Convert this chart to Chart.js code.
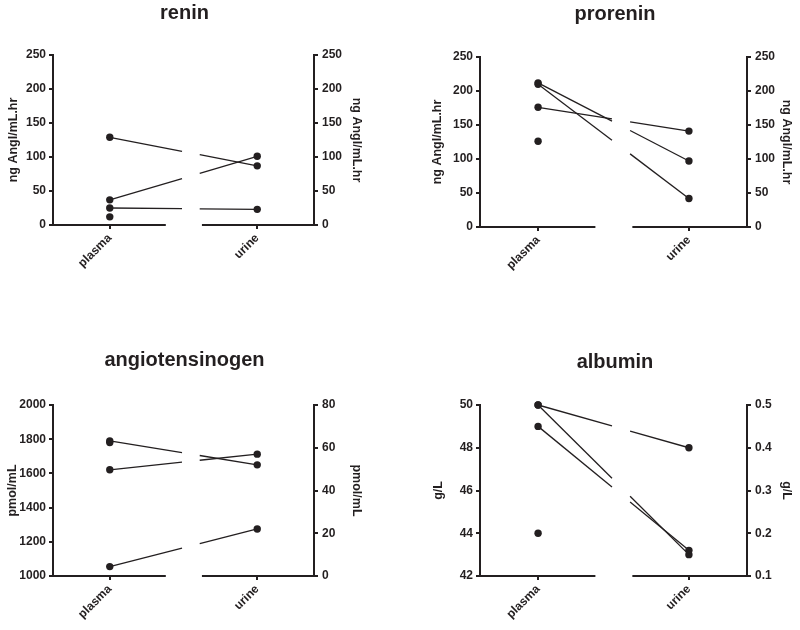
<!DOCTYPE html>
<html>
<head>
<meta charset="utf-8">
<script src="https://cdn.jsdelivr.net/npm/chart.js@4.4.1/dist/chart.umd.min.js"></script>
<style>
html,body{margin:0;padding:0;background:#fff;}
#wrap{position:relative;width:800px;height:630px;}
canvas{position:absolute;}
</style>
</head>
<body>
<div id="wrap">
<canvas id="c1" width="400" height="315" style="left:0;top:0"></canvas>
<canvas id="c2" width="400" height="315" style="left:400px;top:0"></canvas>
<canvas id="c3" width="400" height="315" style="left:0;top:315px"></canvas>
<canvas id="c4" width="400" height="315" style="left:400px;top:315px"></canvas>
</div>
<script>
// categories
const categories = ['plasma', 'urine'];

// renin (ng AngI/mL.hr)
const reninPlasma = [129, 37, 25, 12];
const reninUrine  = [87, 101, 23, null];
const reninLeftTicks  = [0, 250, 50];
const reninRightTicks = [0, 250, 50];

// prorenin (ng AngI/mL.hr)
const proreninPlasma = [212, 210, 176, 126];
const proreninUrine  = [97, 42, 141, null];
const proreninLeftTicks  = [0, 250, 50];
const proreninRightTicks = [0, 250, 50];

// angiotensinogen (pmol/mL)
const angioPlasma = [1790, 1621, 1055, 1780];
const angioUrine  = [52, 57, 22, null];
const angioLeftTicks  = [1000, 2000, 200];
const angioRightTicks = [0, 80, 20];

// albumin (g/L)
const albuminPlasma = [50, 50, 49, 44];
const albuminUrine  = [0.40, 0.15, 0.16, null];
const albuminLeftTicks  = [42, 50, 2];
const albuminRightTicks = [0.1, 0.5, 0.1];

const INK = '#231f20';
const FONT = '"Liberation Sans", Arial, sans-serif';

function pairLines(plasma, urine) {
  return {
    id: 'pairLines',
    beforeDatasetsDraw(chart) {
      const ctx = chart.ctx;
      const x = chart.scales.x, yl = chart.scales.y, yr = chart.scales.y1;
      const area = chart.chartArea;
      ctx.save();
      ctx.strokeStyle = INK;
      ctx.lineWidth = 1.3;
      plasma.forEach((v, i) => {
        const u = urine[i];
        if (u === null || u === undefined) return;
        const x0 = x.getPixelForValue(0), y0 = yl.getPixelForValue(v);
        const x1 = x.getPixelForValue(1), y1 = yr.getPixelForValue(u);
        const seg = (a, b) => {
          ctx.beginPath();
          ctx.moveTo(x0 + (x1 - x0) * a, y0 + (y1 - y0) * a);
          ctx.lineTo(x0 + (x1 - x0) * b, y0 + (y1 - y0) * b);
          ctx.stroke();
        };
        seg(0, 0.49);
        seg(0.61, 1);
      });
      // broken x axis line
      ctx.lineWidth = 2;
      ctx.beginPath();
      ctx.moveTo(area.left - 1, area.bottom);
      ctx.lineTo(x.getPixelForValue(0.38), area.bottom);
      ctx.moveTo(x.getPixelForValue(0.625), area.bottom);
      ctx.lineTo(area.right + 1, area.bottom);
      ctx.stroke();
      ctx.restore();
    }
  };
}

const fmt = v => String(+(+v).toFixed(6));

function makePanel(id, title, unit, plasma, urine, lt, rt, g) {
  const yAxis = (pos, t, w, tp) => ({
    type: 'linear',
    position: pos,
    min: t[0], max: t[1],
    afterFit: s => { s.width = w; },
    ticks: { stepSize: t[2], color: INK, font: { family: FONT, size: 12, weight: 'bold' }, padding: pos === 'left' ? 3 : 4, callback: fmt },
    grid: { drawOnChartArea: false, drawTicks: true, tickLength: 4, color: INK, lineWidth: 2 },
    border: { display: true, color: INK, width: 2 },
    title: { display: true, text: unit, color: INK, font: { family: FONT, size: 12.5, weight: 'bold' }, padding: { top: tp, bottom: 0 } }
  });
  const pointStyle = { backgroundColor: INK, borderColor: INK, pointBackgroundColor: INK, pointBorderColor: INK, pointRadius: 3.7, pointBorderWidth: 0, clip: false };
  return new Chart(document.getElementById(id), {
    type: 'scatter',
    data: {
      datasets: [
        Object.assign({ label: categories[0], data: plasma.map(v => ({ x: 0, y: v })), yAxisID: 'y' }, pointStyle),
        Object.assign({ label: categories[1], data: urine.filter(v => v !== null).map(v => ({ x: 1, y: v })), yAxisID: 'y1' }, pointStyle)
      ]
    },
    options: {
      responsive: false,
      animation: false,
      devicePixelRatio: 1,
      layout: { padding: g.pad },
      plugins: {
        colors: { enabled: false },
        legend: { display: false },
        tooltip: { enabled: false },
        title: { display: true, text: title, color: INK, font: { family: FONT, size: 20, weight: 'bold' }, padding: g.titlePad }
      },
      scales: {
        x: {
          type: 'linear',
          min: -0.385, max: 1.385,
          afterFit: s => { s.height = 50; },
          afterBuildTicks: s => { s.ticks = [{ value: 0 }, { value: 1 }]; },
          ticks: { callback: v => categories[v], minRotation: 45, maxRotation: 45, color: INK, font: { family: FONT, size: 12, weight: 'bold' }, padding: 2 },
          grid: { drawOnChartArea: false, drawTicks: true, tickLength: 4, color: INK, lineWidth: 2 },
          border: { display: false }
        },
        y: yAxis('left', lt, g.wl, g.tl),
        y1: yAxis('right', rt, g.wr, g.tr)
      }
    },
    plugins: [pairLines(plasma, urine)]
  });
}

makePanel('c1', 'renin', 'ng AngI/mL.hr', reninPlasma, reninUrine, reninLeftTicks, reninRightTicks,
  { pad: { left: 0, right: 31, top: 0, bottom: 40 }, titlePad: { top: 1, bottom: 30 }, wl: 53, wr: 55, tl: 6, tr: 5 });
makePanel('c2', 'prorenin', 'ng AngI/mL.hr', proreninPlasma, proreninUrine, proreninLeftTicks, proreninRightTicks,
  { pad: { left: 30, right: 0, top: 0, bottom: 38 }, titlePad: { top: 2, bottom: 31 }, wl: 50, wr: 53, tl: 0, tr: 6 });
makePanel('c3', 'angiotensinogen', 'pmol/mL', angioPlasma, angioUrine, angioLeftTicks, angioRightTicks,
  { pad: { left: 0, right: 31, top: 33, bottom: 4 }, titlePad: { top: 0, bottom: 33 }, wl: 53, wr: 55, tl: 5, tr: 5 });
makePanel('c4', 'albumin', 'g/L', albuminPlasma, albuminUrine, albuminLeftTicks, albuminRightTicks,
  { pad: { left: 30, right: 0, top: 35, bottom: 4 }, titlePad: { top: 0, bottom: 31 }, wl: 50, wr: 53, tl: 1, tr: 6 });
</script>
</body>
</html>
